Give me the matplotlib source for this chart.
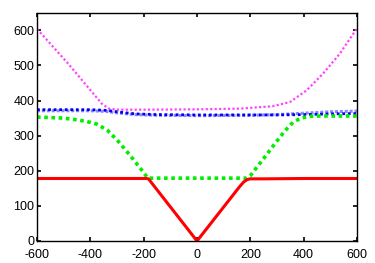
import matplotlib
matplotlib.use("Agg")
import matplotlib.pyplot as plt

plt.rcParams['font.family'] = ['Liberation Sans', 'DejaVu Sans']
plt.rcParams['axes.unicode_minus'] = False

# red solid curve
red_x = [-600, -300, -190, -182, 0, 160, 175, 188, 200, 250, 400, 600]
red_y = [178, 178, 178, 177, 0, 155, 168, 175, 177, 177, 178, 178]

# green dotted curve
green_x = [-600, -500, -440, -400, -376, -337, -300, -250, -200, -185, 185, 200, 250, 300, 330, 360, 390, 420, 460, 600]
green_y = [353, 350, 344, 338, 333, 316, 288, 243, 195, 179, 179, 186, 235, 285, 314, 338, 350, 355, 356, 356]

# magenta dotted curve
mag_x = [-600, -595, -483, -420, -357, -330, -300, -200, 0, 161, 286, 349, 411, 473, 536, 593, 600]
mag_y = [604, 600, 505, 448, 391, 377, 374, 374, 375, 377, 384, 396, 429, 477, 534, 598, 604]

# blue dotted curves (dark and light)
blue_x = [-600, -400, -340, -300, -232, -150, 0, 200, 300, 400, 500, 600]
blue_y = [374, 374, 372, 368, 362, 360, 359, 359, 359, 360, 362, 363]
lblue_x = [-600, -400, -340, -300, -232, -150, 0, 200, 300, 400, 500, 600]
lblue_y = [371, 371, 369, 365, 360, 358, 357, 358, 360, 364, 368, 370]

fig = plt.figure(figsize=(3.75, 2.63), dpi=100)
ax = fig.add_axes([0.0987, 0.0837, 0.8533, 0.865])

ax.plot(mag_x, mag_y, color='#ff44ff', lw=1.6, ls=(0, (1, 1)))
ax.plot(lblue_x, lblue_y, color='#8888ff', lw=2.2, ls=(0, (1, 0.6)))
ax.plot(blue_x, blue_y, color='#0000ee', lw=2.0, ls=(0, (1, 1)))
ax.plot(green_x, green_y, color='#00ee00', lw=2.6, ls=(0, (1, 1)))
ax.plot(red_x, red_y, color='#ff0000', lw=2.2, solid_joinstyle='miter')

ax.set_xlim(-600, 600)
ax.set_ylim(0, 648)
ax.set_xticks([-600, -400, -200, 0, 200, 400, 600])
ax.set_yticks([0, 100, 200, 300, 400, 500, 600])
ax.tick_params(direction='in', length=3, width=1.2, top=True, right=True,
               labelsize=9, colors='black')
ax.tick_params(axis='x', pad=6)
ax.tick_params(axis='y', pad=2)
for lbl in ax.get_yticklabels():
    lbl.set_verticalalignment('center_baseline')
for s in ax.spines.values():
    s.set_linewidth(1.0)

fig.savefig('out.png', dpi=100)
